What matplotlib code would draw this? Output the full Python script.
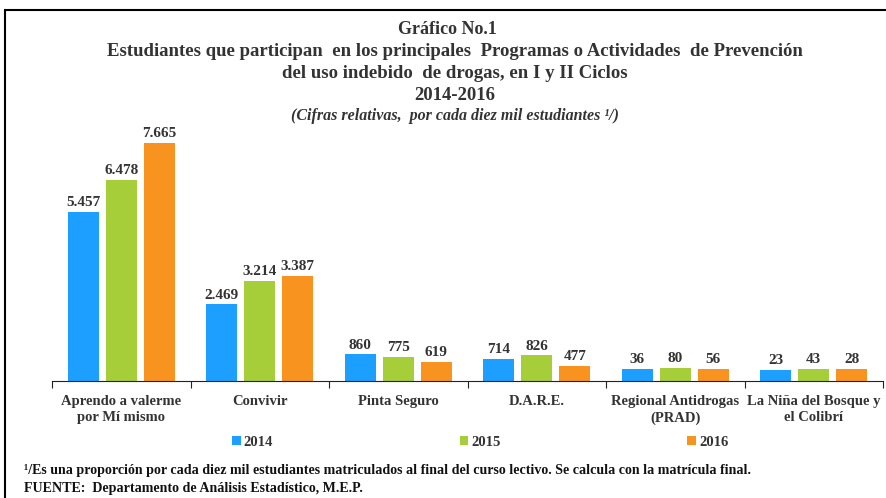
import matplotlib.pyplot as plt
import matplotlib.patches as patches
import numpy as np

# datos
categorias = ['Aprendo a valerme\npor Mí mismo', 'Convivir', 'Pinta Seguro', 'D.A.R.E.',
              'Regional Antidrogas\n(PRAD)', 'La Niña del Bosque y\nel Colibrí']
anios = ['2014', '2015', '2016']
val_2014 = [5457, 2469, 860, 714, 36, 23]
val_2015 = [6478, 3214, 775, 826, 80, 43]
val_2016 = [7665, 3387, 619, 477, 56, 28]
# altura de las barras tal como aparecen en el gráfico original
# (las dos últimas categorías no están a escala en el original)
alto_2014 = [5457, 2469, 860, 714, 386, 354]
alto_2015 = [6478, 3214, 775, 826, 418, 396]
alto_2016 = [7665, 3387, 619, 477, 386, 386]

colores = ['#1C9FFF', '#A6CE39', '#F7931E']
texto = '#333333'

plt.rcParams['font.family'] = ['Liberation Serif', 'DejaVu Serif']
plt.rcParams['font.weight'] = 'bold'

fig = plt.figure(figsize=(8.86, 4.98), dpi=100)
ax = fig.add_axes([52 / 886, 117 / 498, 831 / 886, 251.5 / 498])

x = np.arange(len(categorias))
ancho = 0.224
paso = 0.274
valores = [val_2014, val_2015, val_2016]
alturas = [alto_2014, alto_2015, alto_2016]
for i in range(3):
    pos = x + (i - 1) * paso
    barras = ax.bar(pos, alturas[i], width=ancho, color=colores[i], label=anios[i])
    for b, v in zip(barras, valores[i]):
        etiqueta = f'{v:,}'.replace(',', '.')
        ax.text(b.get_x() + b.get_width() / 2, b.get_height() + 90, etiqueta,
                ha='center', va='bottom', fontsize=11, fontweight='bold', color=texto)

ax.set_xlim(-0.5, len(categorias) - 0.5)
ax.set_ylim(0, 8100)
ax.set_yticks([])
for s in ['top', 'right', 'left']:
    ax.spines[s].set_visible(False)
ax.spines['bottom'].set_color('#222222')

ax.set_xticks(np.arange(len(categorias) + 1) - 0.5)
ax.set_xticklabels([])
ax.tick_params(axis='x', which='major', length=5, direction='out', color='#222222')
ax.set_xticks(x, minor=True)
ax.set_xticklabels(categorias, minor=True, fontsize=10.5, fontweight='bold', color=texto,
                   linespacing=1.35)
ax.tick_params(axis='x', which='minor', length=0, pad=10)

# leyenda
ley = ax.legend(loc='upper center', bbox_to_anchor=(0.515, -0.165), ncol=3, frameon=False,
                handlelength=0.6, handleheight=0.6, handletextpad=0.2, columnspacing=12.8,
                prop={'size': 10.5, 'weight': 'bold'})
for t in ley.get_texts():
    t.set_color(texto)

# títulos
tam_titulo = 13.5
xc = 455 / 886
fig.text(447 / 886, 1 - 29 / 498, 'Gráfico No.1', ha='center', va='center', fontsize=13,
         fontweight='bold', color=texto)
fig.text(xc, 1 - 51 / 498,
         'Estudiantes que participan  en los principales  Programas o Actividades  de Prevención',
         ha='center', va='center', fontsize=tam_titulo, fontweight='bold', color=texto)
fig.text(xc, 1 - 73 / 498, 'del uso indebido  de drogas, en I y II Ciclos', ha='center',
         va='center', fontsize=tam_titulo, fontweight='bold', color=texto)
fig.text(xc, 1 - 95 / 498, '2014-2016', ha='center', va='center', fontsize=tam_titulo,
         fontweight='bold', color=texto)
fig.text(xc, 1 - 116 / 498, '(Cifras relativas,  por cada diez mil estudiantes ¹/)',
         ha='center', va='center', fontsize=11.5, fontweight='bold', style='italic', color=texto)

# notas
fig.text(24 / 886, 1 - 470 / 498,
         '¹/Es una proporción por cada diez mil estudiantes matriculados al final del curso lectivo. '
         'Se calcula con la matrícula final.',
         ha='left', va='center', fontsize=10.1, fontweight='bold', color='#111111')
fig.text(24 / 886, 1 - 488 / 498, 'FUENTE:  Departamento de Análisis Estadístico, M.E.P.',
         ha='left', va='center', fontsize=10.1, fontweight='bold', color='#111111')

# marco
marco = patches.Rectangle((5 / 886, -0.05), 1.0, 1 - 10 / 498 + 0.05, transform=fig.transFigure,
                          fill=False, edgecolor='black', linewidth=1.5, clip_on=False)
fig.patches.append(marco)

fig.savefig('out.png', dpi=100)
